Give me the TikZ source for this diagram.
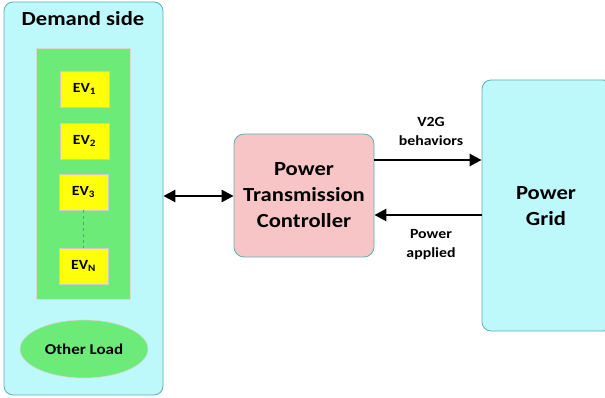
\documentclass[tikz,border=0pt]{standalone}
\usepackage{fontspec}
\setmainfont{Carlito}[FakeStretch=1.13]
\usetikzlibrary{shapes.geometric,arrows.meta}
\definecolor{cyanfill}{HTML}{BDF8FB}
\definecolor{tealline}{HTML}{5FAFB3}
\definecolor{greenfill}{HTML}{6CEB78}
\definecolor{pinkfill}{HTML}{F8C5C6}
\definecolor{evyellow}{HTML}{FFFF0A}
\definecolor{dashblue}{HTML}{5B8FC9}
\tikzset{
  bigbox/.style={draw=tealline, line width=0.8pt, fill=cyanfill, rounded corners=9pt},
  evbox/.style={draw=black!20, line width=0.6pt, fill=evyellow, minimum width=49pt, minimum height=36pt, inner sep=0pt, font=\bfseries\fontsize{14}{16}\selectfont},
  lbl/.style={font=\bfseries\fontsize{14}{19}\selectfont, align=center},
  bigtxt/.style={align=center, font=\bfseries\fontsize{20}{26}\selectfont},
  arr/.style={line width=2.6pt, -{Triangle[length=12pt,width=12pt]}},
  darr/.style={line width=2.6pt, {Triangle[length=12pt,width=12pt]}-{Triangle[length=12pt,width=12pt]}}
}
\begin{document}
\begin{tikzpicture}[x=1pt,y=-1pt]
\useasboundingbox (0,0) rectangle (605,398);
% demand side
\node[bigbox, minimum width=159pt, minimum height=393pt, inner sep=0pt] (demand) at (83.5,198.5) {};
\node[bigtxt] (dtitle) at (83,19) {Demand side};
\node[draw=black!15, fill=greenfill, minimum width=94pt, minimum height=251pt, inner sep=0pt] (evgroup) at (83,173.5) {};
\node[evbox] (ev1) at (84.5,89) {EV\textsubscript{1}};
\node[evbox] (ev2) at (84.5,141) {EV\textsubscript{2}};
\node[evbox] (ev3) at (83.5,192) {EV\textsubscript{3}};
\node[evbox] (evn) at (83.5,266) {EV\textsubscript{N}};
\draw[dashblue, dashed, line width=0.8pt] (ev3.south) -- (evn.north);
\node[ellipse, draw=black!15, line width=0.6pt, fill=greenfill, minimum width=128pt, minimum height=58pt, inner sep=0pt, font=\bfseries\fontsize{15}{17}\selectfont] (other) at (84,349) {Other Load};
% controller
\node[draw=tealline, line width=0.8pt, fill=pinkfill, rounded corners=10pt, minimum width=140pt, minimum height=123pt, inner sep=0pt, bigtxt] (ctrl) at (304,195.5) {Power\\Transmission\\Controller};
% grid
\node[bigbox, minimum width=130pt, minimum height=251pt, inner sep=0pt] (grid) at (547,205.5) {};
\node[bigtxt] (gridlbl) at (546,206) {Power\\Grid};
% arrows
\draw[darr] (demand.east |- 0,196) -- (ctrl.west |- 0,196);
\draw[arr] (ctrl.east |- 0,160) -- (grid.west |- 0,160);
\draw[arr] (grid.west |- 0,215) -- (ctrl.east |- 0,215);
\node[lbl] (v2g) at (431,131) {V2G\\behaviors};
\node[lbl] (papp) at (431,245) {Power\\applied};
\end{tikzpicture}
\end{document}
